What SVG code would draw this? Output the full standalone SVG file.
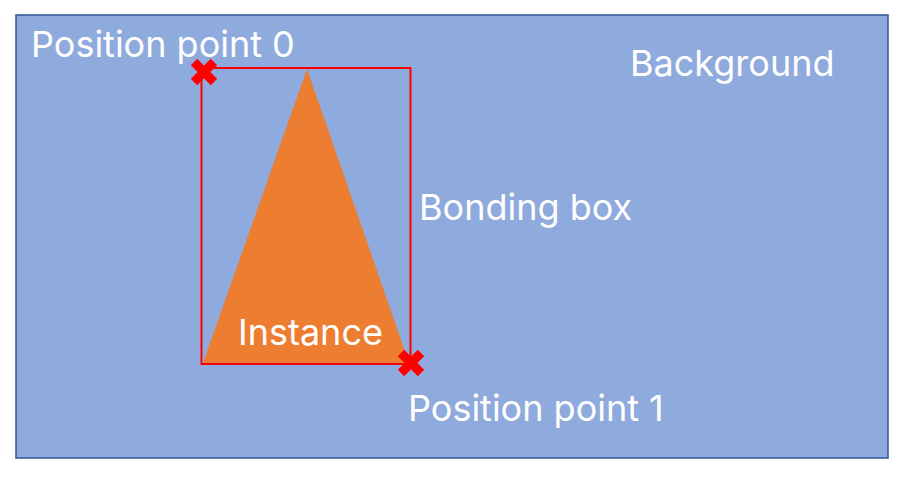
<svg xmlns="http://www.w3.org/2000/svg" width="899" height="478" viewBox="0 0 899 478">
<style>
text{font-family:Inter,"Noto Sans",sans-serif;font-size:36px;fill:#fff}
.mark{stroke:#ff0000;stroke-width:9;fill:none}
</style>
<rect width="899" height="478" fill="#fff"/>
<g id="background">
<rect x="16" y="15" width="872" height="443" fill="#8FAADC" stroke="#2F5597" stroke-width="1.5"/>
<text x="630" y="76">Background</text>
</g>
<g id="instance">
<polygon points="307,69 203,363 409,363" fill="#ED7D31"/>
<text x="238" y="345">Instance</text>
</g>
<g id="bounding-box">
<rect x="201.5" y="68" width="209" height="296" fill="none" stroke="#ff0000" stroke-width="2"/>
<text x="419" y="220">Bonding box</text>
</g>
<g id="point0">
<path class="mark" d="M194,62 L214,82 M214,62 L194,82"/>
<text x="31" y="57">Position point 0</text>
</g>
<g id="point1">
<path class="mark" d="M401,353 L421,373 M421,353 L401,373"/>
<text x="408" y="421">Position point 1</text>
</g>
<g id="connectors"></g>
</svg>
